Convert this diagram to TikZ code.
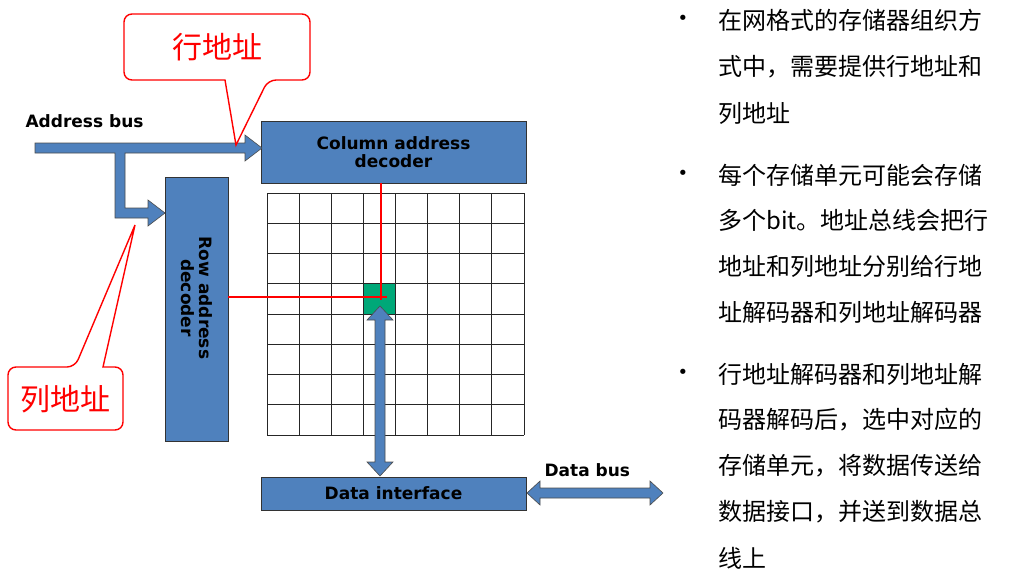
\documentclass[tikz,border=0pt]{standalone}
\usepackage{fontspec}
\setmainfont{DejaVu Sans}
\newfontfamily\cjk{Noto Sans CJK SC}
\definecolor{myblue}{HTML}{4F81BD}
\definecolor{mygreen}{HTML}{00A878}
\begin{document}
\begin{tikzpicture}[x=1pt,y=-1pt,
  box/.style={draw=black!80,fill=myblue,line width=0.8pt,font=\bfseries\fontsize{17}{20}\selectfont,align=center,inner sep=0pt},
  arr/.style={draw=black!70,fill=myblue,line width=0.6pt,line join=miter},
  callout/.style={draw=red,line width=1.4pt,fill=white,rounded corners=8pt},
  lab/.style={font=\bfseries\fontsize{17}{20}\selectfont,anchor=west},
  bt/.style={font=\cjk\fontsize{24}{26}\selectfont,anchor=west,inner sep=0pt},
  bl/.style={font=\fontsize{18}{20}\selectfont,inner sep=0pt}]
\useasboundingbox (0,0) rectangle (1009,574);
% grid
\fill[mygreen] (364,284) rectangle (396,314);
\foreach \i in {0,...,8}{\draw[black!85,line width=0.8pt] (267+32.125*\i,193) -- (267+32.125*\i,435);}
\foreach \j in {0,...,8}{\draw[black!85,line width=0.8pt] (267,193+30.25*\j) -- (524,193+30.25*\j);}
% boxes
\node[box,minimum width=265pt,minimum height=62pt] (col) at (393.5,152) {Column address\\[-2pt]decoder};
\node[box,minimum width=63pt,minimum height=264pt] (row) at (196.5,309) {};
\node[font=\bfseries\fontsize{17}{20}\selectfont,align=center,rotate=-90] (rowt) at (196.5,298) {Row address\\[-2pt]decoder};
\node[box,minimum width=265pt,minimum height=33pt] (di) at (393.5,493.5) {Data interface};
% red selection lines
\coordinate (cell) at (381,297);
\draw[red,line width=1.3pt] (col.south -| cell) -- (381,300);
\draw[red,line width=1.3pt] (row.east |- cell) -- (387,297);
% address bus arrow
\draw[arr] (35,143) -- (245,143) -- (245,135) -- (262,148) -- (245,161) -- (245,153) -- (125,153) -- (125,208) -- (148,208) -- (148,200) -- (165,213) -- (148,226) -- (148,218) -- (115,218) -- (115,153) -- (35,153) -- cycle;
\node[lab] (ab) at (22,121) {Address bus};
% vertical data arrow
\draw[arr] (380,306) -- (393,320) -- (385,320) -- (385,462) -- (393,462) -- (380,476) -- (367,462) -- (375,462) -- (375,320) -- (367,320) -- cycle;
% data bus arrow
\draw[arr] (527,493) -- (540,481) -- (540,488) -- (650,488) -- (650,481) -- (663,493) -- (650,505) -- (650,498) -- (540,498) -- (540,505) -- cycle;
\node[lab] (db) at (541,470) {Data bus};
% callouts
\draw[callout] (124,14) -- (310,14) -- (310,80) -- (268,80) [sharp corners] -- (236,145) -- (225,80) [rounded corners=8pt] -- (124,80) -- cycle;
\node[font=\cjk\fontsize{30}{32}\selectfont,text=red] (c1) at (217,47) {行地址};
\draw[callout] (8,367) -- (75,367) [sharp corners] -- (135,225) -- (103,367) [rounded corners=8pt] -- (123,367) -- (123,430) -- (8,430) -- cycle;
\node[font=\cjk\fontsize{30}{32}\selectfont,text=red] (c2) at (65,399) {列地址};
% bullets
\foreach \y in {20,175,374}{\node[bl] at (683,\y) {•};}
\node[bt] (t1) at (718,20) {在网格式的存储器组织方};
\node[bt] (t2) at (718,67) {式中，需要提供行地址和};
\node[bt] (t3) at (718,113) {列地址};
\node[bt] (t4) at (718,175) {每个存储单元可能会存储};
\node[bt] (t5) at (718,220) {多个bit。地址总线会把行};
\node[bt] (t6) at (718,266) {地址和列地址分别给行地};
\node[bt] (t7) at (718,312) {址解码器和列地址解码器};
\node[bt] (t8) at (718,374) {行地址解码器和列地址解};
\node[bt] (t9) at (718,420) {码器解码后，选中对应的};
\node[bt] (t10) at (718,466) {存储单元，将数据传送给};
\node[bt] (t11) at (718,512) {数据接口，并送到数据总};
\node[bt] (t12) at (718,558) {线上};
\end{tikzpicture}
\end{document}
